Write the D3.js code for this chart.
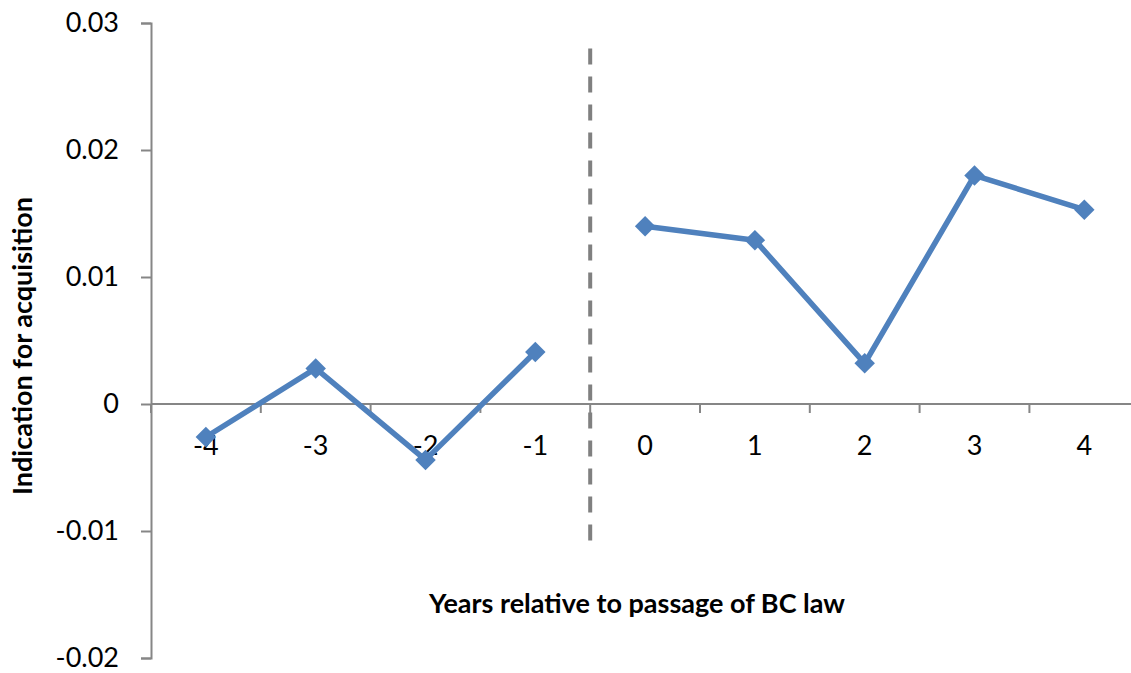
<!DOCTYPE html>
<html>
<head>
<meta charset="utf-8">
<script src="https://cdn.jsdelivr.net/npm/d3@7"></script>
<style>
  body { margin: 0; background: #fff; }
  text { font-family: Lato, "Open Sans", sans-serif; }
</style>
</head>
<body>
<svg id="chart" width="1131" height="673"></svg>
<script>
var years = [-4, -3, -2, -1, 0, 1, 2, 3, 4];
var before = [-0.0026, 0.0028, -0.0044, 0.0041];   // years -4 .. -1
var after  = [0.0140, 0.0129, 0.0032, 0.0180, 0.0153]; // years 0 .. 4
var yTicks = [-0.02, -0.01, 0, 0.01, 0.02, 0.03];
var lawYear = -0.5;  // dashed line sits between -1 and 0

var svg = d3.select("#chart");
var W = +svg.attr("width"), H = +svg.attr("height");
var margin = {left: 151, top: 23, bottom: 15};
var step = 109.8;

var x = d3.scaleLinear().domain([-4.5, 4.5]).range([margin.left, margin.left + 9 * step]);
var y = d3.scaleLinear().domain([-0.02, 0.03]).range([H - margin.bottom, margin.top]);

var axisColor = "#868686";
var fmt = function(d){ return d === 0 ? "0" : String(+d.toFixed(2)).replace("\u2212", "-"); };

// y axis
var yAxis = svg.append("g")
    .attr("transform", "translate(" + margin.left + ",0)")
    .call(d3.axisLeft(y).tickValues(yTicks).tickSize(10).tickPadding(22).tickFormat(fmt));
yAxis.select(".domain").attr("stroke", axisColor).attr("stroke-width", 2);
yAxis.selectAll(".tick line").attr("stroke", axisColor).attr("stroke-width", 2);
yAxis.selectAll(".tick text").attr("font-size", 27).attr("fill", "#000")
    .style("font-family", "Lato, 'Open Sans', sans-serif");

// x axis through zero
var xg = svg.append("g").attr("transform", "translate(0," + y(0) + ")");
xg.append("line")
    .attr("x1", margin.left).attr("x2", W)
    .attr("stroke", axisColor).attr("stroke-width", 2);
var bounds = d3.range(-4.5, 4.6, 1);
xg.selectAll("line.tk").data(bounds).enter().append("line")
    .attr("class", "tk")
    .attr("x1", function(d){ return x(d); }).attr("x2", function(d){ return x(d); })
    .attr("y1", 0).attr("y2", 9)
    .attr("stroke", axisColor).attr("stroke-width", 2);
xg.selectAll("text").data(years).enter().append("text")
    .attr("x", function(d){ return x(d); })
    .attr("y", 51)
    .attr("text-anchor", "middle")
    .attr("font-size", 27)
    .text(function(d){ return d < 0 ? "-" + Math.abs(d) : d; });

// dashed law line
svg.append("line")
    .attr("x1", x(lawYear)).attr("x2", x(lawYear))
    .attr("y1", y(0.028)).attr("y2", y(-0.0108))
    .attr("stroke", "#808080").attr("stroke-width", 4)
    .attr("stroke-dasharray", "16,12");

// series
var blue = "#4F81BD";
var line = d3.line().x(function(d){ return x(d[0]); }).y(function(d){ return y(d[1]); });
var segs = [
    before.map(function(v, i){ return [years[i], v]; }),
    after.map(function(v, i){ return [years[i + 4], v]; })
];
segs.forEach(function(seg){
    svg.append("path").datum(seg)
        .attr("d", line)
        .attr("fill", "none")
        .attr("stroke", blue)
        .attr("stroke-width", 5.5)
        .attr("stroke-linejoin", "round");
    svg.selectAll(null).data(seg).enter().append("path")
        .attr("transform", function(d){ return "translate(" + x(d[0]) + "," + y(d[1]) + ") rotate(45)"; })
        .attr("d", d3.symbol().type(d3.symbolSquare).size(210))
        .attr("fill", blue);
});

// axis titles
svg.append("text")
    .attr("x", 637).attr("y", 613)
    .attr("text-anchor", "middle")
    .attr("font-size", 27).attr("font-weight", "bold")
    .text("Years relative to passage of BC law");

svg.append("text")
    .attr("transform", "translate(32,346) rotate(-90)")
    .attr("text-anchor", "middle")
    .attr("font-size", 27).attr("font-weight", "bold")
    .text("Indication for acquisition");
</script>
</body>
</html>
